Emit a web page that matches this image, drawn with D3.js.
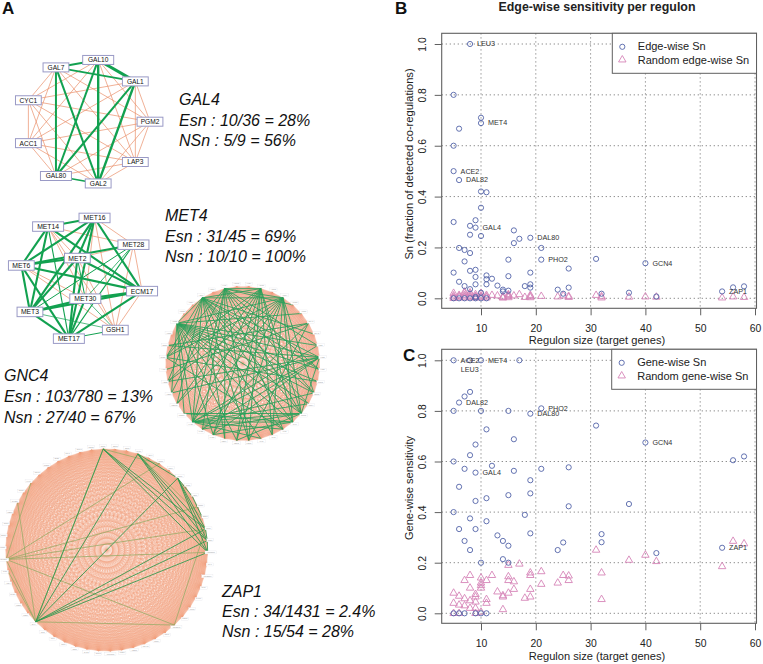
<!DOCTYPE html>
<html><head><meta charset="utf-8">
<script src="https://cdnjs.cloudflare.com/ajax/libs/d3/7.8.5/d3.min.js"></script>
<style>html,body{margin:0;padding:0;background:#fff}svg{display:block}text{font-family:"Liberation Sans",Arial,sans-serif}</style>
</head><body><svg id="c" width="763" height="664"></svg>
<script>
// ---------- scatter data: [regulon size, sensitivity] ----------
const edgeSn = [[8,1],[5,.8],[10,.71],[10,.689],[6,.667],[5,.6],[5,.5],[6,.465],[10,.42],[11,.417],[10,.356],[9,.307],[5,.3],[8,.285],[9,.278],[16,.267],[8,.25],[10,.245],[19,.238],[17,.234],[16,.217],[21,.198],[6,.198],[7,.19],[8,.178],[15,.152],[21,.152],[31,.155],[7,.145],[40,.138],[26,.117],[8,.108],[9,.112],[5,.101],[19,.101],[11,.09],[15,.087],[9,.084],[11,.075],[12,.077],[6,.065],[9,.055],[11,.055],[19,.055],[13,.05],[7,.048],[18,.048],[19,.042],[26,.042],[56,.043],[58,.047],[8,.036],[14,.034],[24,.034],[15,.03],[54,.027],[14,.027],[37,.022],[10,.022],[25,.018],[32,.018],[42,.007],[5,0],[6,0],[7,0],[8,0],[9,0],[10,0],[11,0],[9,.005]];
const edgeRandom = [[5,0],[5,.01],[5,.02],[5,.005],[6,.003],[6,.012],[6,.008],[7,.002],[7,.02],[7,.012],[7,.006],[7,.025],[8,.003],[8,.01],[8,.018],[8,.022],[8,.006],[9,.002],[9,.008],[9,.015],[9,.005],[10,.003],[10,.01],[10,.02],[10,.006],[11,.002],[11,.012],[11,.006],[12,.012],[13,.01],[14,.002],[14,.006],[14,.003],[15,.015],[15,.008],[15,.012],[15,.003],[16,.01],[17,.015],[18,.004],[19,.012],[19,.008],[19,.003],[21,.008],[24,.006],[25,.01],[26,.008],[26,.004],[31,.012],[32,.007],[32,.002],[37,.005],[40,.006],[42,.005],[54,.002],[56,.006],[58,.004]];
const geneSn = [[5,1],[8,1],[10,1],[17,1],[8,.875],[7,.857],[6,.833],[5,.8],[10,.8],[15,.8],[21,.81],[19,.789],[31,.742],[11,.727],[16,.688],[9,.667],[40,.675],[8,.625],[5,.6],[12,.583],[56,.605],[58,.62],[7,.571],[9,.556],[16,.563],[21,.571],[26,.577],[19,.526],[6,.5],[15,.467],[19,.474],[9,.444],[11,.455],[26,.423],[37,.432],[5,.4],[18,.389],[8,.375],[11,.364],[6,.333],[9,.333],[19,.316],[32,.313],[13,.308],[7,.286],[14,.286],[25,.28],[32,.281],[15,.267],[54,.259],[8,.25],[24,.25],[42,.238],[14,.214],[10,.2],[15,.2],[5,0],[6,0],[7,0],[9,0],[10,0],[11,0]];
const geneRandom = [[5,.08],[5,.04],[5,0],[6,.068],[6,.033],[6,0],[7,.13],[7,.058],[7,.03],[8,.15],[8,.1],[8,.05],[8,.02],[9,.075],[9,.065],[9,.045],[9,.02],[9,0],[10,.14],[10,.12],[10,.11],[10,.1],[10,.005],[11,.13],[11,.055],[11,.04],[12,.15],[13,.085],[14,.07],[14,.065],[14,.015],[15,.19],[15,.145],[15,.13],[15,.08],[16,.125],[16,.095],[17,.195],[18,.06],[19,.16],[19,.15],[19,.095],[19,.065],[21,.165],[21,.115],[24,.12],[25,.15],[26,.148],[26,.13],[31,.25],[32,.16],[32,.055],[37,.21],[40,.23],[42,.205],[54,.185],[56,.285],[58,.275]];
const edgeLabels = [["LEU3",8,1],["MET4",10,.689],["ACE2",5,.5],["DAL82",6,.465],["GAL4",9,.278],["DAL80",19,.238],["PHO2",21,.152],["GCN4",40,.138],["ZAP1",54,.027]];
const geneLabels = [["ACE2",5,1],["MET4",10,1],["DAL82",6,.833],["PHO2",21,.81],["DAL80",19,.789],["GCN4",40,.675],["GAL4",9,.556],["ZAP1",54,.259]];
const xTicks = [10,20,30,40,50,60];
const yTicks = [0,.2,.4,.6,.8,1];

// ---------- network data ----------
const gal4Nodes = ["GAL10","GAL1","PGM2","LAP3","GAL2","GAL80","ACC1","CYC1","GAL7"];
const gal4Green = [["GAL7","GAL10",2],["GAL10","GAL1",3],["GAL7","GAL1",1.8],["GAL7","GAL80",2],["GAL7","GAL2",2],["GAL10","GAL80",2],["GAL10","GAL2",2.4],["GAL1","GAL80",2],["GAL1","GAL2",2.4],["GAL80","GAL2",1.6]];
const met4Outer = ["MET16","MET28","ECM17","GSH1","MET17","MET3","MET6","MET14"];
const met4Inner = ["MET2","MET30"];
const met4Orange = [["MET16","MET28"],["MET28","ECM17"],["ECM17","GSH1"],["MET14","MET28"],["MET2","MET28"],["MET14","MET30"],["MET14","GSH1"],["MET2","GSH1"],["MET16","GSH1"],["MET6","GSH1"],["MET28","GSH1"],["MET16","MET30"],["MET6","MET30"],["MET14","MET2"]];
const met4Thin = [["MET3","GSH1",.7],["MET30","GSH1",.7],["MET17","GSH1",1],["MET28","MET30",.8],["MET28","MET3",1],["MET28","MET17",1.1],["MET14","MET17",1.1],["MET2","MET30",1]];
const gcn4Nodes = ["HIS4","ARG1","ARG3","ARG4","ARG5","ARG8","CPA1","CPA2","HIS1","HIS3","HIS5","TRP2","TRP3","TRP4","TRP5","ILV1","ILV2","ILV3","ILV5","LEU1","LEU2","LEU4","LYS1","LYS2","LYS9","MET14","MET16","ASN1","ASN2","AAT2","GLN1","SNZ1","ARO1","ARO2","ARO3","ARO4","ATR1","ADE4","YHR","HOM3"];
const gcn4Hubs = [[33,[14,15,16,18,20,22,24,25,10,9,27,12,36,13,11,8,5]],[36,[15,14,17,19,21,24,26,12,9,7,3,1,13,10,28,30]],[38,[14,19,21,24,27,10,8,4,1,3,16,23,12,30]],[1,[24,26,22,20,17,19,15,14,36,28,30]],[3,[14,15,17,20,22,24,26,28,33,12,30]],[9,[14,24,22,28,27,23,31]],[14,[24,25,23,20]],[15,[24,25,22]],[24,[12,13,16,18,8]],[6,[23,29,31,19]],[30,[11,16]]];
const zap1Nodes = ["ZRT1","ZRT2","ZRT3","ZAP1","ADH4","ZPS1","FET4","TIS11","CIS3","VEL1","ZRC1","DPP1","LPP1","RTC4","YOR387C","ICY1","YGL258W","GIT1","PHM7","PST1","MNT2","YNL254C","RGI1","SPG4","URA10","ADE17","MCD4","YLR130C","CMK1","ZAP2","INO1","OPI3","IZH1","IZH2","IZH4","FRE1","FRE3","CHO1","ALD4","PIS1","YJL132W","SUR1","ERG6","TPO1","MET3","PHO84","CTR1","HXT4","GCV2","RNR3","BIO5","ZTA1","ZWF1","COS8"];
const zap1Dark = [[0,14],[0,13],[0,12],[3,14],[3,13],[3,12],[7,14],[7,13],[7,12],[34,14],[34,13],[34,12],[34,0],[34,3],[34,7],[13,14],[12,13],[7,9],[9,11],[3,7]];
const zap1Light = [[40,14],[40,12],[40,21],[40,34],[40,47],[40,5],[40,10],[34,45],[34,21],[21,12],[0,34],[3,11],[0,5],[34,39]];

// ---------- formatted text ----------
const annotations = [
 {x:179,y:[105,126,146],t:["GAL4","Esn : 10/36 = 28%","NSn : 5/9 = 56%"]},
 {x:165,y:[221,241.5,262],t:["MET4","Esn : 31/45 = 69%","Nsn : 10/10 = 100%"]},
 {x:4,y:[381,402,423],t:["GNC4","Esn : 103/780 = 13%","Nsn : 27/40 = 67%"]},
 {x:222,y:[597,617,637],t:["ZAP1","Esn : 34/1431 = 2.4%","Nsn : 15/54 = 28%"]}
];
const panelLetters = [["A",2,14],["B",395,14],["C",403,361]];

// ---------- styles ----------
const GREEN="#12a150", ORANGE="#ee9a78", BLUE="#5263a8", PINK="#d684b8", BOXC="#606060";

const svg=d3.select("#c");

// ---------- networks ----------
function place(nodes,cx,cy,r,startDeg,stepDeg){
  const a=d3.scaleLinear().domain([0,1]).range([startDeg,startDeg+stepDeg].map(d=>d*Math.PI/180));
  return new Map(nodes.map((n,i)=>{const p=d3.pointRadial(a(i),r);return [n,[cx+p[0],cy+p[1]]];}));
}
function link(g,pos,a,b,col,w,op){
  const p=pos.get(a),q=pos.get(b);
  g.append("line").attr("x1",p[0]).attr("y1",p[1]).attr("x2",q[0]).attr("y2",q[1])
   .attr("stroke",col).attr("stroke-width",w).attr("stroke-opacity",op==null?1:op);
}
function nodeBoxes(g,pos,fs,h,charW,pad,stroke,sw,fill){
  pos.forEach((p,n)=>{
    const w=n.length*charW+pad;
    g.append("rect").attr("x",p[0]-w/2).attr("y",p[1]-h/2).attr("width",w).attr("height",h)
     .attr("fill","#fff").attr("stroke",stroke).attr("stroke-width",sw);
    g.append("text").attr("x",p[0]).attr("y",p[1]+fs*.36).attr("text-anchor","middle")
     .attr("font-size",fs).attr("fill",fill).text(n);
  });
}
const pairKey=(a,b)=>a<b?a+"|"+b:b+"|"+a;

// GAL4
{
  const g=svg.append("g"),pos=place(gal4Nodes,87.3,121.7,62.7,10,40);
  const greenSet=new Set(gal4Green.map(d=>pairKey(d[0],d[1])));
  gal4Nodes.forEach((a,i)=>gal4Nodes.slice(i+1).forEach(b=>{if(!greenSet.has(pairKey(a,b)))link(g,pos,a,b,"#ea8f6a",.7);}));
  gal4Green.forEach(d=>link(g,pos,d[0],d[1],GREEN,d[2]));
  nodeBoxes(g,pos,6.6,9,5.2,5,"#9a9ac6",1,"#111");
}
// MET4
{
  const g=svg.append("g");
  const pos=new Map([...place(met4Outer,81.7,278.3,61.7,12,45),...place(met4Inner,81.7,278.3,20.7,-12,182)]);
  const nodes=[...pos.keys()];
  const orange=new Set(met4Orange.map(d=>pairKey(d[0],d[1])));
  const thin=new Map(met4Thin.map(d=>[pairKey(d[0],d[1]),d[2]]));
  nodes.forEach((a,i)=>nodes.slice(i+1).forEach(b=>{if(orange.has(pairKey(a,b)))link(g,pos,a,b,"#ea8f6a",.7);}));
  nodes.forEach((a,i)=>nodes.slice(i+1).forEach(b=>{const k=pairKey(a,b);if(!orange.has(k))link(g,pos,a,b,GREEN,thin.get(k)||2.1);}));
  nodeBoxes(g,pos,6.8,9.5,5.2,5,"#9a9ac6",1,"#111");
}
// GCN4
{
  const g=svg.append("g"),pos=place(gcn4Nodes,242.7,363.5,77,4.5,9);
  gcn4Nodes.forEach((a,i)=>gcn4Nodes.slice(i+1).forEach(b=>link(g,pos,a,b,"#f3a283",.4,.8)));
  const seen=new Set();
  gcn4Hubs.forEach(([h,ps])=>ps.forEach(p=>{const k=pairKey(String(h).padStart(2,"0"),String(p).padStart(2,"0"));
    if(!seen.has(k)){seen.add(k);link(g,pos,gcn4Nodes[h],gcn4Nodes[p],"#27a05a",.85);}}));
  const lab=place(gcn4Nodes,242.7,363.5,80,4.5,9);
  nodeBoxes(g,lab,1.9,3.2,1.5,1.5,"#e2e2e8",.3,"#999");
}
// ZAP1
{
  const g=svg.append("g"),pos=place(zap1Nodes,106.7,550,101,-2,360/54);
  zap1Nodes.forEach((a,i)=>zap1Nodes.slice(i+1).forEach(b=>link(g,pos,a,b,"#f3a080",.3,.8)));
  zap1Light.forEach(d=>link(g,pos,zap1Nodes[d[0]],zap1Nodes[d[1]],"#8cab62",.7));
  zap1Dark.forEach(d=>link(g,pos,zap1Nodes[d[0]],zap1Nodes[d[1]],"#2c9a4e",.85));
  const lab=place(zap1Nodes,106.7,550,104,-2,360/54);
  nodeBoxes(g,lab,1.8,3,1.4,1.5,"#e2e2e8",.3,"#999");
}
// Annotations
annotations.forEach(a=>a.t.forEach((s,i)=>svg.append("text").attr("x",a.x).attr("y",a.y[i])
  .attr("font-size",16).attr("font-style","italic").attr("fill","#111").text(s)));
panelLetters.forEach(([s,x,y])=>svg.append("text").attr("x",x).attr("y",y).attr("font-size",17)
  .attr("font-weight","bold").attr("fill","#111").text(s));
svg.append("text").attr("x",597).attr("y",11).attr("text-anchor","middle").attr("font-size",12.4)
  .attr("font-weight","bold").attr("fill","#222").text("Edge-wise sensitivity per regulon");

// ---------- scatter panels ----------
function panel(o){
  const L=441.7,R=756.5,x=d3.scaleLinear().domain([10,60]).range([481,755]);
  const y=d3.scaleLinear().domain([0,1]).range([o.y0,o.y1]);
  const g=svg.append("g");
  g.append("g").selectAll("line").data(xTicks).join("line").attr("x1",x).attr("x2",x).attr("y1",o.top).attr("y2",o.bot)
    .attr("stroke","#808080").attr("stroke-dasharray","1.2,2.8");
  g.append("g").selectAll("line").data(yTicks).join("line").attr("y1",y).attr("y2",y).attr("x1",L).attr("x2",R)
    .attr("stroke","#808080").attr("stroke-dasharray","1.2,2.8");
  const tri=d3.symbol(d3.symbolTriangle,24);
  g.append("g").selectAll("path").data(o.rand).join("path").attr("d",tri)
    .attr("transform",d=>`translate(${x(d[0])},${y(d[1])})`).attr("fill","none").attr("stroke",PINK).attr("stroke-width",.9);
  g.append("g").selectAll("circle").data(o.pts).join("circle").attr("cx",d=>x(d[0])).attr("cy",d=>y(d[1])).attr("r",2.6)
    .attr("fill","none").attr("stroke",BLUE).attr("stroke-width",.9);
  g.append("g").selectAll("text").data(o.labels).join("text").attr("x",d=>x(d[1])+7).attr("y",d=>y(d[2])+2.4)
    .attr("font-size",7.2).attr("fill","#333").text(d=>d[0]);
  if(o.extra) g.append("text").attr("x",o.extra[1]).attr("y",o.extra[2]).attr("font-size",7.2).attr("fill","#333").text(o.extra[0]);
  g.append("rect").attr("x",L).attr("y",o.top).attr("width",R-L).attr("height",o.bot-o.top).attr("fill","none").attr("stroke",BOXC).attr("stroke-width",1.1);
  const ax=g.append("g").attr("transform",`translate(0,${o.bot})`).call(d3.axisBottom(x).tickValues(xTicks).tickSize(7).tickFormat(d3.format("d")));
  ax.select(".domain").remove();
  ax.selectAll("line").attr("stroke",BOXC);
  ax.selectAll("text").attr("y",23.7).attr("dy",null).attr("font-size",10.4).attr("fill","#222");
  const ay=g.append("g").attr("transform",`translate(${L},0)`).call(d3.axisLeft(y).tickValues(yTicks).tickSize(7).tickFormat(d3.format(".1f")));
  ay.select(".domain").remove();
  ay.selectAll("line").attr("stroke",BOXC);
  ay.selectAll("text").attr("x",null).attr("dy",null).attr("text-anchor","middle").attr("font-size",10.4).attr("fill","#222")
    .attr("transform","translate(-15.7,0) rotate(-90)");
  g.append("text").attr("x",597).attr("y",o.xt).attr("text-anchor","middle").attr("font-size",11.1).attr("fill","#222").text("Regulon size (target genes)");
  g.append("text").attr("transform",`translate(412.5,${o.ytc}) rotate(-90)`).attr("text-anchor","middle").attr("font-size",11.1).attr("fill","#222").text(o.ytitle);
  const lx=o.lx,h=40;
  const lg=g.append("g");
  lg.append("rect").attr("x",lx).attr("y",o.top).attr("width",R-lx).attr("height",h).attr("fill","#fff").attr("stroke",BOXC).attr("stroke-width",1);
  lg.append("circle").attr("cx",lx+10).attr("cy",o.top+13.5).attr("r",2.6).attr("fill","none").attr("stroke",BLUE).attr("stroke-width",.9);
  lg.append("path").attr("d",tri).attr("transform",`translate(${lx+10},${o.top+26.5})`).attr("fill","none").attr("stroke",PINK).attr("stroke-width",.9);
  lg.append("text").attr("x",lx+25.5).attr("y",o.top+17).attr("font-size",11).attr("fill","#222").text(o.leg[0]);
  lg.append("text").attr("x",lx+25.5).attr("y",o.top+30.5).attr("font-size",11).attr("fill","#222").text(o.leg[1]);
}
panel({y0:298.3,y1:44,top:33.3,bot:308.3,pts:edgeSn,rand:edgeRandom,labels:edgeLabels,lx:612.3,xt:344,ytc:164,ytitle:"Sn (fraction of detected co-regulations)",leg:["Edge-wise Sn","Random edge-wise Sn"]});
panel({y0:613.3,y1:360.3,top:349.3,bot:623.3,pts:geneSn,rand:geneRandom,labels:geneLabels,extra:["LEU3",460.7,371.5],lx:611.7,xt:660,ytc:488,ytitle:"Gene-wise sensitivity",leg:["Gene-wise Sn","Random gene-wise Sn"]});
</script></body></html>
